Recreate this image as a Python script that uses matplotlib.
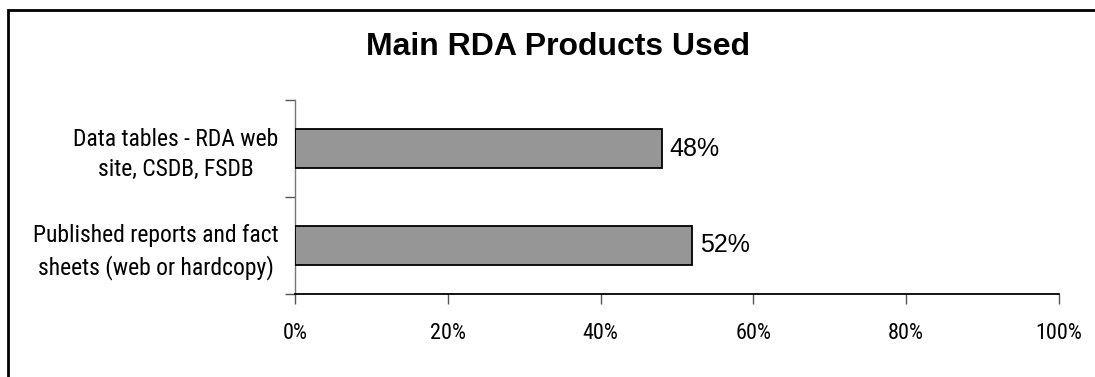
import matplotlib
matplotlib.use("Agg")
import matplotlib.pyplot as plt
from matplotlib import font_manager as fm
from matplotlib.patches import Rectangle
from matplotlib.ticker import FixedLocator, FuncFormatter

categories = ["Published reports and fact\nsheets (web or hardcopy)",
              "Data tables - RDA web\nsite, CSDB, FSDB"]
shares = [52, 48]
x_ticks = [0, 20, 40, 60, 80, 100]
title = "Main RDA Products Used"


def pick_file(stems):
    """First installed font file whose basename starts with one of the stems."""
    files = [f.fname for f in fm.fontManager.ttflist]
    for stem in stems:
        for path in files:
            if path.split("/")[-1].lower().startswith(stem):
                return path
    return None


def props(path, fallback="DejaVu Sans"):
    if path:
        return lambda size: fm.FontProperties(fname=path, size=size)
    return lambda size: fm.FontProperties(family=fallback, size=size)


narrow_path = pick_file(["liberationsansnarrow-regular", "arialn.", "arial narrow",
                         "robotocondensed-regular", "roboto_condensed-regular",
                         "notosans-condensed.", "notosans-condensedregular",
                         "opensans-condensedregular", "opensans_condensed-regular",
                         "dejavusanscondensed."])
if narrow_path is None:
    cond = [f.fname for f in fm.fontManager.ttflist
            if f.stretch in ("condensed", "semi-condensed", 500, 600)
            and f.weight in (400, "normal", "regular") and f.style == "normal"]
    narrow_path = cond[0] if cond else None

narrow = props(narrow_path)
regular = props(pick_file(["liberationsans-regular"]))
bold = props(pick_file(["liberationsans-bold."]))

W, H = 1095, 377
fig = plt.figure(figsize=(W / 100, H / 100), dpi=100)
fig.patch.set_facecolor("white")

# chart-area border (only the left and top edges fall inside the image)
fig.patches.append(Rectangle((8 / W, -0.5), 1.5, 1.5 - 9.5 / H,
                             transform=fig.transFigure, fill=False,
                             edgecolor="black", linewidth=2, clip_on=False))

ax = fig.add_axes([295 / W, 1 - 294 / H, (1059 - 295) / W, (294 - 100) / H])
ypos = list(range(len(categories)))
ax.barh(ypos, shares, height=0.4, color="#969696", edgecolor="black",
        linewidth=1.3, zorder=3)
for y, v in zip(ypos, shares):
    ax.text(v + 1.0, y, f"{v}%", va="center", ha="left",
            fontproperties=regular(18), color="black")

ax.set_xlim(0, 100)
ax.set_ylim(-0.5, len(categories) - 0.5)
ax.xaxis.set_major_locator(FixedLocator(x_ticks))
ax.xaxis.set_major_formatter(FuncFormatter(lambda v, p: f"{int(v)}%"))
ax.yaxis.set_major_locator(FixedLocator([i - 0.5 for i in range(len(categories) + 1)]))
ax.yaxis.set_major_formatter(FuncFormatter(lambda v, p: ""))
ax.yaxis.set_minor_locator(FixedLocator(ypos))
ax.set_yticklabels(categories, minor=True, multialignment="center",
                   fontproperties=narrow(17), linespacing=1.4)
ax.tick_params(axis="y", which="minor", length=0, pad=12)
ax.tick_params(axis="y", which="major", length=7, width=1, color="#555555")
ax.tick_params(axis="x", length=7, width=1, color="#555555", pad=14)
for lbl in ax.get_xticklabels():
    lbl.set_fontproperties(narrow(16))

for s in ("top", "right"):
    ax.spines[s].set_visible(False)
ax.spines["left"].set_color("#777777")
ax.spines["left"].set_linewidth(1)
ax.spines["bottom"].set_color("black")
ax.spines["bottom"].set_linewidth(1.3)

fig.text(558 / W, 1 - 47 / H, title, ha="center", va="center",
         fontproperties=bold(23))

fig.savefig("out.png", dpi=100, facecolor="white")
